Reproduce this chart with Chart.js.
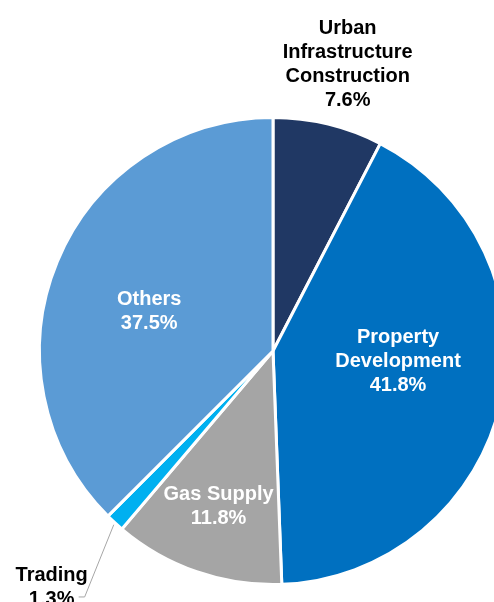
<!DOCTYPE html>
<html>
<head>
<meta charset="utf-8">
<script src="https://cdn.jsdelivr.net/npm/chart.js@4/dist/chart.umd.min.js"></script>
<style>
  html, body { margin: 0; padding: 0; background: #fff; overflow: hidden; }
  #wrap { position: absolute; left: 0; top: 0; width: 546px; height: 602px; }
</style>
</head>
<body>
<div id="wrap"><canvas id="chart" width="546" height="602"></canvas></div>
<script>
// --- DATA ---
const categories = ['Urban\nInfrastructure\nConstruction', 'Property\nDevelopment', 'Gas Supply', 'Trading', 'Others'];
const shares = [7.6, 41.8, 11.8, 1.3, 37.5];
const sliceColors = ['#203864', '#0070C0', '#A5A5A5', '#00B0F0', '#5B9BD5'];

// label placement: radial factor, nudge, colour, leader line
const labelStyle = [
    { f: 1.28, dx: 4, dy: 4, color: '#000000' },
    { f: 0.54, dx: 2, dy: -17, color: '#ffffff' },
    { f: 0.70, dx: -1, dy: 1, color: '#ffffff' },
    { f: 1.38, dx: -3, dy: 0, color: '#000000', leader: true },
    { f: 0.56, dx: -3, dy: 11, color: '#ffffff' }
];

const pieLabels = {
    id: 'pieLabels',
    afterDatasetsDraw(chart) {
        const ctx = chart.ctx;
        const meta = chart.getDatasetMeta(0);
        ctx.save();
        ctx.font = 'bold 20px "Liberation Sans", Arial, sans-serif';
        ctx.textAlign = 'center';
        ctx.textBaseline = 'middle';
        meta.data.forEach((arc, i) => {
            const st = labelStyle[i];
            const mid = (arc.startAngle + arc.endAngle) / 2;
            const r = arc.outerRadius;
            const lx = arc.x + Math.cos(mid) * r * st.f + st.dx;
            const ly = arc.y + Math.sin(mid) * r * st.f + st.dy;
            const lines = categories[i].split('\n').concat([shares[i].toFixed(1) + '%']);
            const lh = 24;
            const top = ly - (lines.length - 1) * lh / 2;

            if (st.leader) {
                const ex = arc.x + Math.cos(mid) * r;
                const ey = arc.y + Math.sin(mid) * r;
                ctx.strokeStyle = '#A6A6A6';
                ctx.lineWidth = 1;
                ctx.beginPath();
                ctx.moveTo(ex - 1, ey + 2);
                ctx.lineTo(lx + 33, ly + 9);
                ctx.lineTo(lx + 27, ly + 9);
                ctx.stroke();
            }

            ctx.fillStyle = st.color;
            lines.forEach((t, k) => ctx.fillText(t, lx, top + k * lh));
        });
        ctx.restore();
    }
};

new Chart(document.getElementById('chart'), {
    type: 'pie',
    data: {
        labels: categories,
        datasets: [{
            data: shares,
            backgroundColor: sliceColors,
            borderColor: '#ffffff',
            borderWidth: 3
        }]
    },
    options: {
        responsive: false,
        animation: false,
        layout: { padding: { top: 116, bottom: 16, left: 0, right: 0 } },
        plugins: {
            legend: { display: false },
            tooltip: { enabled: false }
        }
    },
    plugins: [pieLabels]
});
</script>
</body>
</html>
